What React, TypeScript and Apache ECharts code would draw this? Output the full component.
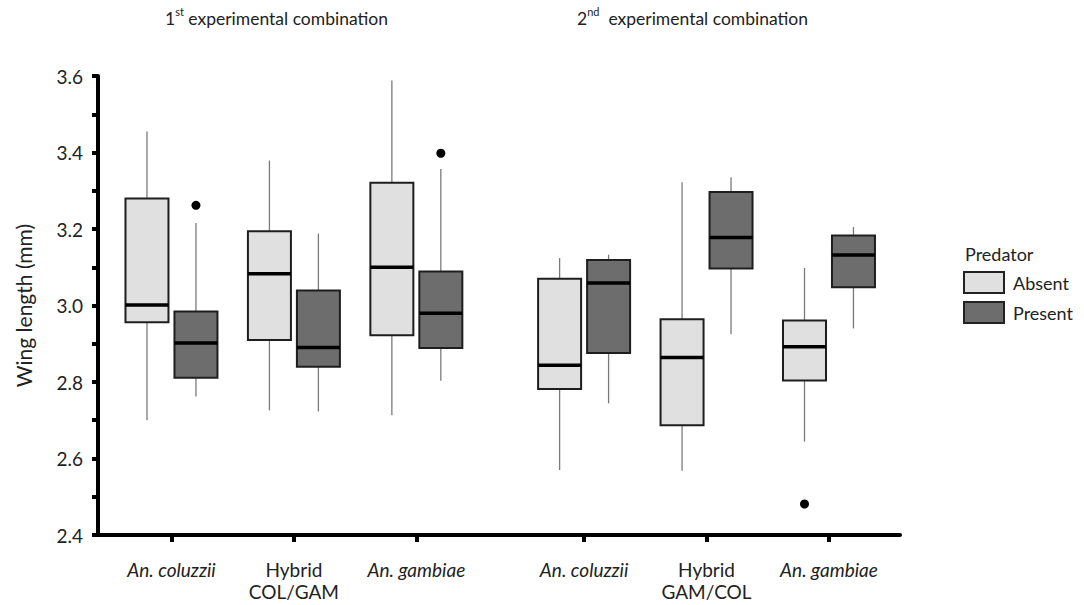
import React, { useEffect, useRef } from "react";
import * as echarts from "echarts";

// Category layout (x positions of each species pair on a numeric axis)
const categoryPositions = [1, 2, 3, 4.37, 5.37, 6.37];
const categoryLabels = [
  "{i|An. coluzzii}",
  "{n|Hybrid}\n{n|COL/GAM}",
  "{i|An. gambiae}",
  "{i|An. coluzzii}",
  "{n|Hybrid}\n{n|GAM/COL}",
  "{i|An. gambiae}",
];

// Predator absent
const absentMin = [2.7, 2.726, 2.713, 2.57, 2.568, 2.644];
const absentQ1 = [2.956, 2.91, 2.922, 2.782, 2.687, 2.804];
const absentMedian = [3.001, 3.083, 3.1, 2.844, 2.864, 2.892];
const absentQ3 = [3.28, 3.194, 3.321, 3.07, 2.964, 2.961];
const absentMax = [3.455, 3.379, 3.588, 3.124, 3.322, 3.098];
const absentOutlierCats = [5];
const absentOutlierValues = [2.481];

// Predator present
const presentMin = [2.762, 2.723, 2.803, 2.744, 2.925, 2.94];
const presentQ1 = [2.811, 2.84, 2.889, 2.876, 3.097, 3.048];
const presentMedian = [2.902, 2.89, 2.98, 3.059, 3.178, 3.132];
const presentQ3 = [2.984, 3.039, 3.089, 3.119, 3.297, 3.183];
const presentMax = [3.216, 3.188, 3.357, 3.133, 3.335, 3.205];
const presentOutlierCats = [0, 2];
const presentOutlierValues = [3.262, 3.398];

const PAIR_OFFSET = 0.2;
const BOX_HALF = 21.5;
const FONT = "Lato, 'Open Sans', sans-serif";
const ABSENT_FILL = "#e0e0e0";
const PRESENT_FILL = "#6d6d6d";

function buildBoxData(off: number, mn: number[], q1: number[], md: number[], q3: number[], mx: number[]) {
  return categoryPositions.map((p, i) => [p + off, mn[i], q1[i], md[i], q3[i], mx[i]]);
}

function buildOutliers(off: number, cats: number[], vals: number[]) {
  return cats.map((c, i) => [categoryPositions[c] + off, vals[i]]);
}

function makeRenderItem(fill: string) {
  return (params: any, api: any) => {
    const x = api.value(0);
    const pMin = api.coord([x, api.value(1)]);
    const pQ1 = api.coord([x, api.value(2)]);
    const pMed = api.coord([x, api.value(3)]);
    const pQ3 = api.coord([x, api.value(4)]);
    const pMax = api.coord([x, api.value(5)]);
    const whisker = { stroke: "#7a7a7a", lineWidth: 1.3 };
    return {
      type: "group",
      children: [
        { type: "line", shape: { x1: pMax[0], y1: pMax[1], x2: pQ3[0], y2: pQ3[1] }, style: whisker },
        { type: "line", shape: { x1: pQ1[0], y1: pQ1[1], x2: pMin[0], y2: pMin[1] }, style: whisker },
        {
          type: "rect",
          shape: { x: pQ3[0] - BOX_HALF, y: pQ3[1], width: BOX_HALF * 2, height: pQ1[1] - pQ3[1] },
          style: { fill, stroke: "#1e1e1e", lineWidth: 2 },
        },
        {
          type: "line",
          shape: { x1: pMed[0] - BOX_HALF, y1: pMed[1], x2: pMed[0] + BOX_HALF, y2: pMed[1] },
          style: { stroke: "#000", lineWidth: 3.5 },
        },
      ],
    };
  };
}

export default function App() {
  const ref = useRef<HTMLDivElement>(null);
  useEffect(() => {
    if (!ref.current) return;
    const chart = echarts.init(ref.current, undefined, { renderer: "svg" });
    const labelFor = (v: number) => {
      const idx = categoryPositions.findIndex((p) => Math.abs(p - v) < 1e-6);
      return idx >= 0 ? categoryLabels[idx] : "";
    };
    const supRich = { sup: { fontSize: 11, verticalAlign: "top", lineHeight: 14, color: "#222", fontFamily: FONT } };
    chart.setOption({
      animation: false,
      backgroundColor: "#fff",
      textStyle: { fontFamily: FONT },
      title: [
        {
          text: "1{sup|st} experimental combination",
          left: 165,
          top: 6,
          padding: 0,
          textStyle: {
            fontFamily: FONT,
            fontSize: 17.5,
            fontWeight: "normal",
            color: "#222",
            lineHeight: 24,
            rich: supRich,
          },
        },
        {
          text: "2{sup|nd}  experimental combination",
          left: 577,
          top: 6,
          padding: 0,
          textStyle: {
            fontFamily: FONT,
            fontSize: 17.5,
            fontWeight: "normal",
            color: "#222",
            lineHeight: 24,
            rich: supRich,
          },
        },
        {
          text: "Predator",
          left: 965,
          top: 245,
          padding: 0,
          textStyle: { fontFamily: FONT, fontSize: 18, fontWeight: "normal", color: "#222" },
        },
      ],
      legend: {
        orient: "vertical",
        left: 963,
        top: 271,
        padding: 0,
        itemWidth: 40,
        itemHeight: 21,
        itemGap: 7,
        icon: "rect",
        textStyle: { fontFamily: FONT, fontSize: 18, color: "#222", padding: [0, 0, 2, 4] },
        data: [
          { name: "Absent", itemStyle: { color: ABSENT_FILL, borderColor: "#222", borderWidth: 2 } },
          { name: "Present", itemStyle: { color: PRESENT_FILL, borderColor: "#222", borderWidth: 2 } },
        ],
      },
      grid: { left: 98, right: 184, top: 76, bottom: 70, containLabel: false },
      xAxis: {
        type: "value",
        min: 0.4,
        max: 6.95,
        splitLine: { show: false },
        axisLine: { show: true, onZero: false, lineStyle: { color: "#000", width: 4 } },
        axisTick: {
          show: true,
          customValues: categoryPositions,
          length: 7,
          lineStyle: { color: "#000", width: 4 },
        },
        axisLabel: {
          show: true,
          customValues: categoryPositions,
          margin: 23,
          formatter: (v: number) => labelFor(v),
          rich: {
            i: { fontStyle: "italic", fontSize: 19, color: "#222", fontFamily: FONT, lineHeight: 22 },
            n: { fontSize: 19, color: "#222", fontFamily: FONT, lineHeight: 22 },
          },
        },
      },
      yAxis: {
        type: "value",
        min: 2.4,
        max: 3.6,
        interval: 0.2,
        name: "Wing length (mm)",
        nameLocation: "middle",
        nameGap: 64,
        nameTextStyle: { fontFamily: FONT, fontSize: 21, color: "#222" },
        splitLine: { show: false },
        axisLine: { show: true, lineStyle: { color: "#000", width: 4 } },
        axisTick: { show: true, length: 6, lineStyle: { color: "#000", width: 4 } },
        minorTick: { show: true, splitNumber: 2, length: 6, lineStyle: { color: "#000", width: 4 } },
        axisLabel: {
          margin: 15,
          fontSize: 19,
          color: "#222",
          fontFamily: FONT,
          formatter: (v: number) => v.toFixed(1),
        },
      },
      series: [
        {
          name: "Absent",
          type: "custom",
          renderItem: makeRenderItem(ABSENT_FILL),
          itemStyle: { color: ABSENT_FILL, borderColor: "#222", borderWidth: 2 },
          encode: { x: 0, y: [1, 2, 3, 4, 5] },
          data: buildBoxData(-PAIR_OFFSET, absentMin, absentQ1, absentMedian, absentQ3, absentMax),
          z: 2,
        },
        {
          name: "Present",
          type: "custom",
          renderItem: makeRenderItem(PRESENT_FILL),
          itemStyle: { color: PRESENT_FILL, borderColor: "#222", borderWidth: 2 },
          encode: { x: 0, y: [1, 2, 3, 4, 5] },
          data: buildBoxData(PAIR_OFFSET, presentMin, presentQ1, presentMedian, presentQ3, presentMax),
          z: 2,
        },
        {
          name: "Absent outliers",
          type: "scatter",
          symbol: "circle",
          symbolSize: 9,
          itemStyle: { color: "#000", opacity: 1 },
          data: buildOutliers(-PAIR_OFFSET, absentOutlierCats, absentOutlierValues),
          z: 3,
        },
        {
          name: "Present outliers",
          type: "scatter",
          symbol: "circle",
          symbolSize: 9,
          itemStyle: { color: "#000", opacity: 1 },
          data: buildOutliers(PAIR_OFFSET, presentOutlierCats, presentOutlierValues),
          z: 3,
        },
      ],
    });
    return () => chart.dispose();
  }, []);
  return (
    <div
      ref={ref}
      style={{ position: "fixed", left: 0, top: 0, width: 1084, height: 605, background: "#fff" }}
    />
  );
}
